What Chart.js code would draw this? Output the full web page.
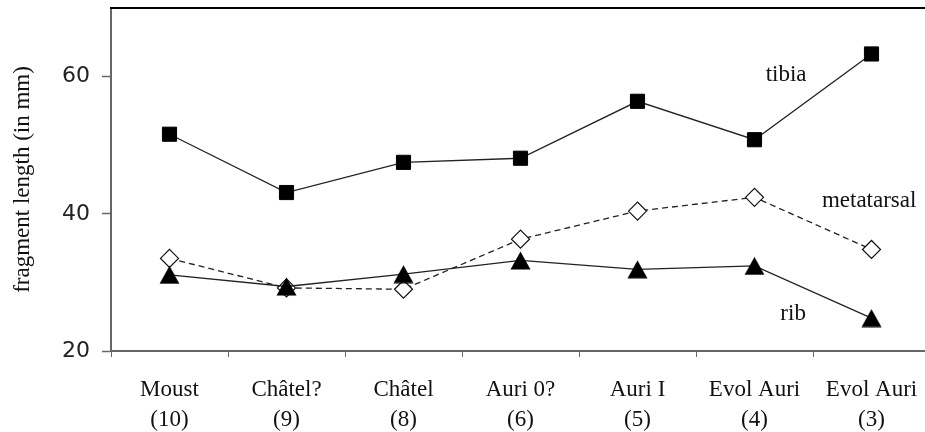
<!DOCTYPE html>
<html>
<head>
<meta charset="utf-8">
<script src="https://cdn.jsdelivr.net/npm/chart.js@4/dist/chart.umd.min.js"></script>
<style>
  html, body { margin: 0; padding: 0; background: #fff; overflow: hidden; }
  #wrap { width: 925px; height: 432px; overflow: hidden; }
</style>
</head>
<body>
<div id="wrap"><canvas id="c" width="930" height="432"></canvas></div>
<script>
// ---- data ----
const categories = [
  ['Moust', '(10)'],
  ['Châtel?', '(9)'],
  ['Châtel', '(8)'],
  ['Auri 0?', '(6)'],
  ['Auri I', '(5)'],
  ['Evol Auri', '(4)'],
  ['Evol Auri', '(3)']
];
const tibia      = [51.6, 43.1, 47.5, 48.1, 56.4, 50.8, 63.3];
const metatarsal = [33.5, 29.2, 29.0, 36.3, 40.4, 42.4, 34.8];
const rib        = [31.1, 29.4, 31.2, 33.2, 31.9, 32.4, 24.8];
const yTicks     = [20, 40, 60];
const yTitle     = 'fragment length (in mm)';
const seriesLabels = ['tibia', 'metatarsal', 'rib'];
const labelX     = [5.27, 5.98, 5.33];  // category index positions of series labels
const labelY     = [60.3, 41.8, 25.4];  // value positions of series labels

// ---- triangle marker (bbox-centred) ----
function makeTriangle() {
  const cv = document.createElement('canvas');
  cv.width = 21; cv.height = 19;
  const g = cv.getContext('2d');
  g.fillStyle = '#000';
  g.beginPath();
  g.moveTo(10.5, 0.5);
  g.lineTo(20.5, 18.5);
  g.lineTo(0.5, 18.5);
  g.closePath();
  g.fill();
  return cv;
}
const tri = makeTriangle();

const serif = "'Liberation Serif', 'Times New Roman', serif";

const decorPlugin = {
  id: 'decor',
  afterDraw(chart) {
    const ctx = chart.ctx;
    const a = chart.chartArea;
    ctx.save();
    ctx.strokeStyle = '#000';
    ctx.lineWidth = 2;
    ctx.beginPath();
    ctx.moveTo(a.left - 1, a.top);
    ctx.lineTo(chart.width, a.top);
    ctx.stroke();
    const xs = chart.scales.x, ys = chart.scales.y;
    ctx.fillStyle = '#111';
    ctx.font = "23px " + serif;
    ctx.textAlign = 'center';
    ctx.textBaseline = 'middle';
    seriesLabels.forEach((t, i) => {
      ctx.fillText(t, xs.getPixelForValue(labelX[i]), ys.getPixelForValue(labelY[i]));
    });
    ctx.restore();
  }
};

new Chart(document.getElementById('c'), {
  type: 'line',
  data: {
    labels: categories,
    datasets: [
      {
        label: 'tibia', data: tibia, order: 0,
        borderColor: '#222', borderWidth: 1.3, fill: false, tension: 0,
        pointStyle: 'rect', pointRadius: 10, pointBackgroundColor: '#000',
        pointBorderColor: '#000', pointBorderWidth: 1
      },
      {
        label: 'rib', data: rib, order: 1,
        borderColor: '#222', borderWidth: 1.3, fill: false, tension: 0,
        pointStyle: tri, pointRadius: 10
      },
      {
        label: 'metatarsal', data: metatarsal, order: 2,
        borderColor: '#222', borderWidth: 1.3, borderDash: [6, 4], fill: false, tension: 0,
        pointStyle: 'rectRot', pointRadius: 9, pointBackgroundColor: '#fff',
        pointBorderColor: '#111', pointBorderWidth: 1.2
      }
    ]
  },
  options: {
    responsive: false,
    animation: false,
    devicePixelRatio: 1,
    layout: { autoPadding: false, padding: { top: 8, right: 0, left: 0, bottom: 0 } },
    plugins: { legend: { display: false }, tooltip: { enabled: false } },
    scales: {
      x: {
        type: 'category',
        offset: true,
        grid: { offset: true, drawOnChartArea: false, drawTicks: true, tickLength: 6, color: '#666', tickWidth: 1 },
        border: { color: '#666', width: 2 },
        ticks: {
          color: '#111', font: { family: serif, size: 23, lineHeight: 1.3 },
          padding: 18, maxRotation: 0, autoSkip: false
        },
        afterFit(s) { s.height = 81; s.paddingLeft = 0; s.paddingRight = 0; }
      },
      y: {
        min: 20, max: 70,
        afterBuildTicks(s) { s.ticks = yTicks.map(v => ({ value: v })); },
        grid: { drawOnChartArea: false, drawTicks: true, tickLength: 9, color: '#666', tickWidth: 1.5 },
        border: { color: '#666', width: 2 },
        ticks: {
          color: '#222', font: { family: "'DejaVu Sans', sans-serif", size: 22 }, padding: 12
        },
        title: {
          display: true, text: yTitle, color: '#111',
          font: { family: serif, size: 23 }, padding: { top: 9, bottom: 0 }
        },
        afterFit(s) { s.width = 111; s.paddingTop = 0; s.paddingBottom = 0; }
      }
    }
  },
  plugins: [decorPlugin]
});
</script>
</body>
</html>
